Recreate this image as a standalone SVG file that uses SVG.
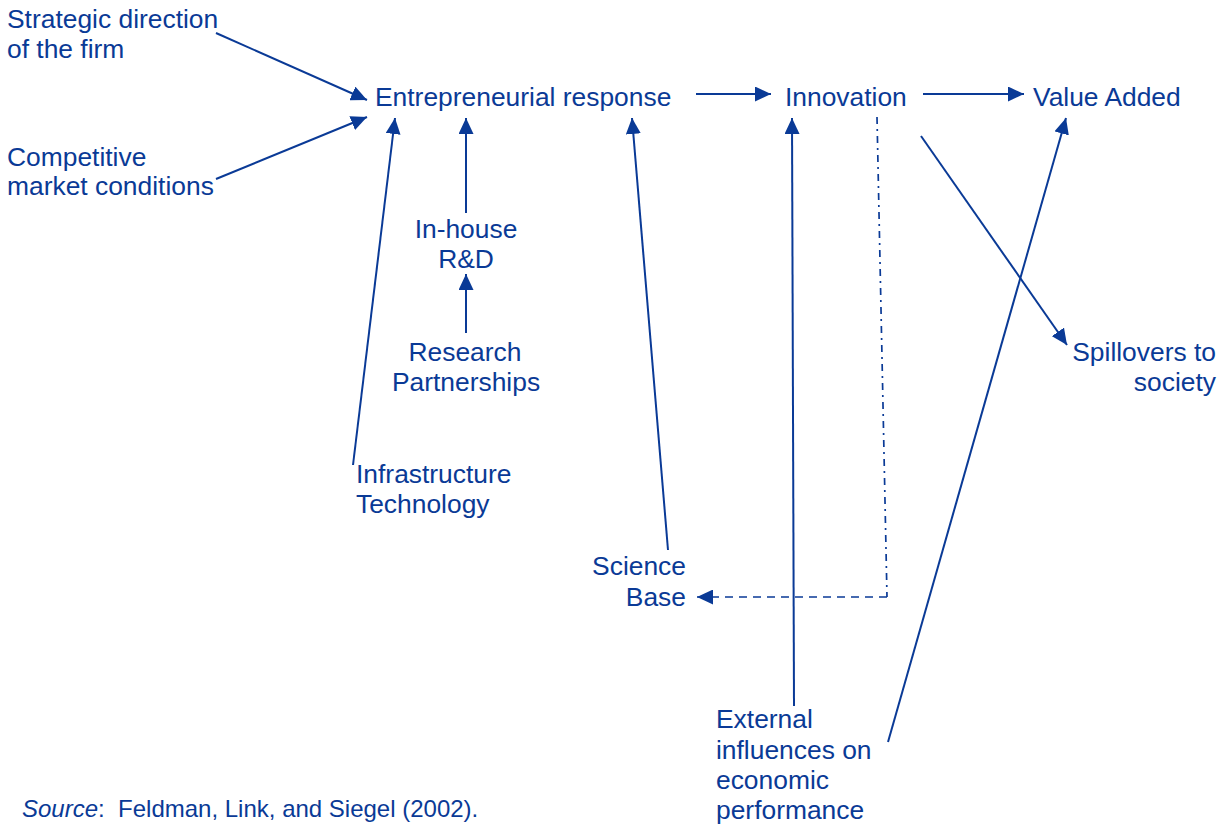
<svg xmlns="http://www.w3.org/2000/svg" width="1228" height="826" viewBox="0 0 1228 826">
<style>
text{font-family:"Liberation Sans",Arial,sans-serif;font-size:26.4px;fill:#0a3a96}
.r{text-anchor:end}
.m{text-anchor:middle}
.src{font-size:24px;white-space:pre}
.c{stroke:#0a3a96;stroke-width:2;fill:none}
.dash{stroke-dasharray:8 6;stroke-width:1.7}
.dd{stroke-dasharray:7 5 2 5;stroke-width:1.7}
</style>
<defs>
<marker id="ah" markerUnits="userSpaceOnUse" markerWidth="16" markerHeight="15" refX="16" refY="7.5" orient="auto" viewBox="0 0 16 15">
<path d="M0,0 L16,7.5 L0,15 z" fill="#0a3a96"/>
</marker>
</defs>
<rect width="1228" height="826" fill="#fff"/>
<g id="connectors">
<line class="c" x1="216" y1="33" x2="367" y2="100" marker-end="url(#ah)"/>
<line class="c" x1="216" y1="179" x2="367" y2="117" marker-end="url(#ah)"/>
<line class="c" x1="353" y1="465" x2="395" y2="118" marker-end="url(#ah)"/>
<line class="c" x1="466" y1="213" x2="466" y2="118" marker-end="url(#ah)"/>
<line class="c" x1="466" y1="333" x2="466" y2="274" marker-end="url(#ah)"/>
<line class="c" x1="668" y1="550" x2="632" y2="118" marker-end="url(#ah)"/>
<line class="c" x1="696" y1="94" x2="771" y2="94" marker-end="url(#ah)"/>
<line class="c" x1="923" y1="94" x2="1024" y2="94" marker-end="url(#ah)"/>
<line class="c" x1="794" y1="706" x2="792" y2="118" marker-end="url(#ah)"/>
<line class="c" x1="888" y1="742" x2="1066" y2="118" marker-end="url(#ah)"/>
<line class="c" x1="921" y1="136" x2="1067" y2="345" marker-end="url(#ah)"/>
<line class="c dd" x1="877" y1="117" x2="887" y2="597"/>
<line class="c dash" x1="887" y1="597" x2="697" y2="597" marker-end="url(#ah)"/>
</g>
<g id="strategic"><text x="7" y="28">Strategic direction</text><text x="7" y="58">of the firm</text></g>
<g id="competitive"><text x="7" y="166">Competitive</text><text x="7" y="195">market conditions</text></g>
<g id="entrepreneurial"><text x="375" y="106">Entrepreneurial response</text></g>
<g id="innovation"><text x="785" y="106">Innovation</text></g>
<g id="value-added"><text x="1033" y="106">Value Added</text></g>
<g id="inhouse"><text class="m" x="466" y="238">In-house</text><text class="m" x="466" y="268">R&amp;D</text></g>
<g id="research"><text class="m" x="465" y="361">Research</text><text class="m" x="466" y="391">Partnerships</text></g>
<g id="infrastructure"><text x="356" y="483">Infrastructure</text><text x="356" y="513">Technology</text></g>
<g id="science"><text class="r" x="686" y="575">Science</text><text class="r" x="686" y="606">Base</text></g>
<g id="spillovers"><text class="r" x="1216" y="361">Spillovers to</text><text class="r" x="1216" y="391">society</text></g>
<g id="external"><text x="716" y="728">External</text><text x="716" y="759">influences on</text><text x="716" y="789">economic</text><text x="716" y="819">performance</text></g>
<g id="source"><text class="src" x="22" y="817" xml:space="preserve"><tspan font-style="italic">Source</tspan>:  Feldman, Link, and Siegel (2002).</text></g>
</svg>
